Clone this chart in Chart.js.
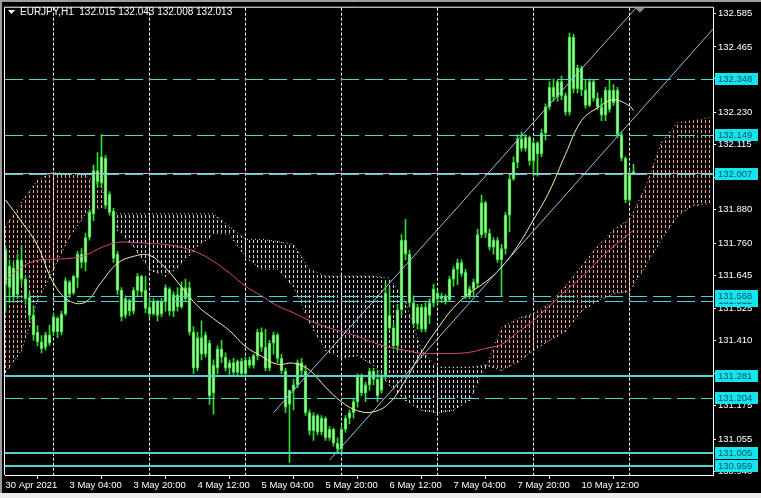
<!DOCTYPE html>
<html>
<head>
<meta charset="utf-8">
<script src="https://cdn.jsdelivr.net/npm/chart.js@4.4.1/dist/chart.umd.min.js"></script>
<style>
  html, body { margin: 0; padding: 0; background: #ececec; }
  #wrap { position: relative; width: 761px; height: 493px; }
</style>
</head>
<body>
<div id="wrap"><canvas id="chart"></canvas></div>
<script>
// ---- data (hourly bars, index 0 = 30 Apr 2021 12:00) ----
const symbol = 'EURJPY,H1';
const timeTickIdx = [0, 16, 32, 48, 64, 80, 96, 112, 128, 144];
const timeLabels = ['30 Apr 2021', '3 May 04:00', '3 May 20:00', '4 May 12:00', '5 May 04:00',
  '5 May 20:00', '6 May 12:00', '7 May 04:00', '7 May 20:00', '10 May 12:00'];
const daySeparators = [12, 36, 60, 84, 108, 132, 156];

const opens = [131.736,131.600,131.670,131.575,131.700,131.630,131.565,131.500,131.440,131.405,
  131.385,131.430,131.440,131.490,131.440,131.505,131.620,131.580,131.635,131.720,
  131.690,131.780,131.865,132.020,131.975,132.065,131.935,131.875,131.720,131.590,
  131.500,131.555,131.515,131.590,131.640,131.590,131.530,131.505,131.550,131.505,
  131.550,131.595,131.515,131.575,131.530,131.600,131.600,131.440,131.310,131.420,
  131.360,131.400,131.220,131.310,131.380,131.350,131.310,131.330,131.295,131.335,
  131.290,131.340,131.320,131.355,131.440,131.385,131.310,131.400,131.430,131.345,
  131.300,131.180,131.230,131.250,131.330,131.300,131.150,131.085,131.140,131.080,
  131.130,131.060,131.090,131.040,131.020,131.090,131.130,131.150,131.190,131.280,
  131.220,131.250,131.300,131.270,131.230,131.280,131.500,131.455,131.390,131.520,
  131.770,131.720,131.545,131.470,131.530,131.450,131.500,131.545,131.580,131.560,
  131.570,131.555,131.630,131.665,131.690,131.655,131.570,131.595,131.615,131.790,
  131.905,131.795,131.745,131.770,131.700,131.740,131.860,131.990,132.050,132.135,
  132.100,132.140,132.055,132.120,132.080,132.155,132.250,132.320,132.285,132.340,
  132.290,132.230,132.500,132.315,132.390,132.310,132.255,132.340,132.280,132.250,
  132.220,132.310,132.265,132.310,132.150,132.065,131.915,132.015];
const highs = [131.750,131.700,131.690,131.720,131.750,131.640,131.582,131.534,131.463,131.427,
  131.440,131.465,131.505,131.495,131.515,131.635,131.625,131.645,131.730,131.740,
  131.795,131.880,132.040,132.085,132.150,132.075,131.945,131.885,131.730,131.600,
  131.570,131.560,131.600,131.650,131.645,131.640,131.560,131.560,131.555,131.560,
  131.610,131.600,131.585,131.600,131.620,131.630,131.620,131.460,131.440,131.480,
  131.440,131.410,131.340,131.390,131.410,131.365,131.340,131.345,131.340,131.345,
  131.350,131.350,131.360,131.450,131.455,131.450,131.410,131.440,131.435,131.360,
  131.310,131.215,131.270,131.340,131.345,131.320,131.160,131.150,131.145,131.140,
  131.135,131.100,131.095,131.060,131.100,131.140,131.160,131.200,131.290,131.290,
  131.260,131.310,131.310,131.300,131.290,131.618,131.600,131.470,131.540,131.790,
  131.845,131.735,131.570,131.540,131.540,131.545,131.560,131.612,131.590,131.580,
  131.575,131.640,131.675,131.702,131.700,131.665,131.605,131.630,131.810,131.932,
  131.910,131.810,131.780,131.780,131.755,131.870,132.010,132.070,132.150,132.160,
  132.150,132.145,132.130,132.125,132.170,132.260,132.340,132.350,132.345,132.360,
  132.300,132.515,132.510,132.400,132.395,132.345,132.350,132.345,132.300,132.280,
  132.320,132.345,132.330,132.320,132.160,132.070,132.020,132.043];
const lows = [131.510,131.546,131.550,131.560,131.610,131.540,131.480,131.410,131.390,131.365,
  131.375,131.392,131.430,131.420,131.430,131.500,131.565,131.575,131.600,131.670,
  131.660,131.770,131.840,131.960,131.960,131.885,131.860,131.690,131.575,131.480,
  131.490,131.500,131.505,131.570,131.570,131.510,131.490,131.500,131.480,131.495,
  131.515,131.500,131.495,131.515,131.525,131.550,131.430,131.290,131.300,131.340,
  131.350,131.180,131.145,131.290,131.330,131.300,131.280,131.285,131.285,131.280,
  131.280,131.310,131.310,131.340,131.370,131.300,131.300,131.360,131.330,131.290,
  131.150,130.971,131.160,131.240,131.280,131.140,131.070,131.050,131.070,131.070,
  131.050,131.050,131.030,131.003,131.010,131.080,131.110,131.130,131.170,131.210,
  131.190,131.230,131.250,131.190,131.220,131.270,131.450,131.380,131.370,131.500,
  131.700,131.530,131.460,131.450,131.440,131.440,131.470,131.530,131.540,131.545,
  131.540,131.550,131.605,131.610,131.640,131.560,131.560,131.570,131.600,131.780,
  131.780,131.735,131.720,131.690,131.570,131.720,131.800,131.985,132.030,132.090,
  132.090,132.040,132.000,132.000,132.070,132.130,132.240,132.270,132.270,132.275,
  132.220,132.220,132.300,132.300,132.290,132.245,132.250,132.270,132.240,132.200,
  132.200,132.230,132.255,132.140,132.055,131.905,131.910,132.008];
const closes = [131.610,131.677,131.570,131.700,131.630,131.560,131.500,131.430,131.405,131.380,
  131.430,131.400,131.495,131.440,131.505,131.625,131.575,131.640,131.720,131.690,
  131.780,131.870,132.020,131.980,132.070,131.895,131.870,131.705,131.590,131.495,
  131.560,131.515,131.590,131.640,131.585,131.525,131.505,131.550,131.500,131.550,
  131.600,131.515,131.575,131.530,131.600,131.560,131.440,131.310,131.420,131.360,
  131.430,131.210,131.320,131.380,131.350,131.310,131.330,131.295,131.335,131.290,
  131.340,131.320,131.355,131.440,131.385,131.310,131.400,131.430,131.345,131.300,
  131.170,131.230,131.250,131.330,131.300,131.150,131.085,131.140,131.080,131.130,
  131.060,131.090,131.040,131.020,131.090,131.130,131.150,131.190,131.280,131.220,
  131.250,131.300,131.270,131.210,131.280,131.580,131.455,131.390,131.520,131.770,
  131.720,131.545,131.470,131.530,131.450,131.530,131.545,131.595,131.560,131.570,
  131.550,131.630,131.665,131.690,131.650,131.570,131.595,131.620,131.790,131.905,
  131.795,131.745,131.770,131.700,131.740,131.860,131.990,132.050,132.135,132.100,
  132.140,132.055,132.120,132.080,132.155,132.250,132.320,132.285,132.340,132.290,
  132.230,132.500,132.315,132.390,132.310,132.255,132.340,132.280,132.250,132.220,
  132.310,132.240,132.310,132.150,132.065,131.915,132.010,132.013];

// Ichimoku senkou spans, sampled every 4 bars (shifted 26 bars forward)
const cloudIdx = [0,4,8,12,16,20,24,28,32,36,40,44,48,52,56,60,64,68,72,76,80,84,88,92,
  96,100,104,108,112,116,120,124,128,132,136,140,144,148,152,156,160,164,168,172,176];
const spanA = [131.819,131.908,131.986,132.015,132.008,132.004,131.961,131.808,131.748,131.666,
  131.641,131.687,131.748,131.794,131.791,131.712,131.666,131.666,131.605,131.474,
  131.374,131.349,131.356,131.321,131.249,131.196,131.160,131.150,131.160,131.196,
  131.310,131.456,131.488,131.506,131.545,131.605,131.677,131.748,131.808,131.844,
  131.961,132.122,132.193,132.200,132.211];
const spanB = [131.296,131.374,131.552,131.666,131.783,131.865,131.890,131.865,131.865,131.865,
  131.865,131.865,131.865,131.865,131.819,131.773,131.773,131.766,131.755,131.666,
  131.641,131.641,131.641,131.641,131.634,131.552,131.374,131.314,131.314,131.314,
  131.321,131.303,131.331,131.374,131.410,131.445,131.516,131.552,131.577,131.588,
  131.677,131.773,131.858,131.897,131.901];

// moving averages, sampled
const maIdx = [0,4,8,12,16,20,24,28,32,36,40,44,48,52,56,60,64,68,72,76,80,84,88,92,
  96,100,104,108,112,116,120,124,128,132,136,140,144,148,152,156,157];
const maFast = [131.915,131.837,131.751,131.616,131.552,131.548,131.620,131.687,131.712,131.716,
  131.670,131.602,131.534,131.488,131.445,131.388,131.353,131.324,131.328,131.303,
  131.242,131.189,131.157,131.153,131.185,131.267,131.367,131.452,131.527,131.580,
  131.620,131.673,131.748,131.844,131.947,132.079,132.200,132.246,132.275,132.253,132.236];
const maSlow = [131.623,131.673,131.698,131.702,131.705,131.716,131.744,131.762,131.762,131.758,
  131.755,131.744,131.726,131.694,131.652,131.605,131.570,131.534,131.509,131.481,
  131.459,131.442,131.424,131.402,131.385,131.374,131.363,131.363,131.363,131.367,
  131.381,131.395,131.438,131.481,131.534,131.588,131.637,131.694,131.748,131.794,131.805];

// price axis
const priceTicks = [132.585,132.465,132.350,132.230,132.115,131.995,131.880,131.760,
  131.645,131.525,131.410,131.290,131.175,131.055,130.940];
const yMin = 130.926, yMax = 132.606;

// horizontal levels
const levels     = [132.348, 132.149, 132.007, 131.552, 131.568, 131.281, 131.204, 131.005, 130.959];
const levelSolid = [false,   false,   false,   false,   false,   true,    false,   true,    true];

// channel (trend lines): [bar index, price]
const channelUpper = [[67, 131.150], [160, 132.643]];
const channelLower = [[81, 130.979], [177, 132.531]];

const shiftIdx = 158.6;

// ---- chart ----
const FONT = "'Liberation Sans', Arial, sans-serif";
Chart.defaults.font.family = FONT;
Chart.defaults.font.size = 9.5;
Chart.defaults.color = '#ffffff';

const UP_COL = '#f6a287', DN_COL = '#ddd2e4';
const last = closes.length - 1;
const candleIdx = closes.map((_, k) => k);

// value of a sampled series at a bar column (linear between samples)
function sampleAt(idx, vals, k) {
  for (let j = 0; j < idx.length - 1; j++) {
    if (k >= idx[j] && k <= idx[j + 1]) {
      const t = (k - idx[j]) / (idx[j + 1] - idx[j]);
      return vals[j] + t * (vals[j + 1] - vals[j]);
    }
  }
  return null;
}

const datasets = [];

datasets.push({
  type: 'line', label: 'spanA', order: 20,
  data: cloudIdx.map((k, j) => ({ x: k, y: spanA[j] })),
  borderColor: UP_COL, borderWidth: 1, borderDash: [1, 3],
  pointRadius: 0, tension: 0, fill: false
});
datasets.push({
  type: 'line', label: 'spanB', order: 21,
  data: cloudIdx.map((k, j) => ({ x: k, y: spanB[j] })),
  borderColor: DN_COL, borderWidth: 1, borderDash: [1, 3],
  pointRadius: 0, tension: 0, fill: false
});

datasets.push({
  type: 'bar', label: 'wicks', order: 8, grouped: false,
  data: candleIdx.map(k => ({ x: k, y: [lows[k], highs[k]] })),
  backgroundColor: '#35dc35', barThickness: 1, borderWidth: 0
});
datasets.push({
  type: 'bar', label: 'bodies', order: 7, grouped: false,
  data: candleIdx.map(k => ({ x: k, y: [opens[k], closes[k]] })),
  backgroundColor: '#9cf29c', borderColor: '#35dc35', borderWidth: 1,
  borderSkipped: false, barThickness: 3, minBarLength: 1
});

datasets.push({
  type: 'line', label: 'maSlow', order: 5,
  data: maIdx.map((k, j) => ({ x: k, y: maSlow[j] })),
  borderColor: '#d8487c', borderWidth: 1, pointRadius: 0, tension: 0.4, fill: false
});
datasets.push({
  type: 'line', label: 'maFast', order: 4,
  data: maIdx.map((k, j) => ({ x: k, y: maFast[j] })),
  borderColor: '#f4f2a8', borderWidth: 1, pointRadius: 0, tension: 0.4, fill: false
});

[channelUpper, channelLower].forEach((seg, n) => {
  datasets.push({
    type: 'line', label: 'channel' + n, order: 3,
    data: seg.map(p => ({ x: p[0], y: p[1] })),
    borderColor: '#9dbfd6', borderWidth: 1, pointRadius: 0, fill: false
  });
});

const mtPlugin = {
  id: 'mt',
  beforeDraw(chart) {
    const { ctx, width, height } = chart;
    ctx.save();
    ctx.fillStyle = '#000';
    ctx.fillRect(0, 0, width, height);
    ctx.fillStyle = '#9c9c9c';
    ctx.fillRect(0, 0, width, 2);
    ctx.fillRect(0, 0, 2, height);
    ctx.restore();
  },
  beforeDatasetsDraw(chart) {
    const { ctx, chartArea: a, scales: { x, y } } = chart;
    ctx.save();
    // day separators
    ctx.strokeStyle = '#ffffff';
    ctx.lineWidth = 1;
    ctx.setLineDash([3, 2]);
    daySeparators.forEach(i => {
      const px = Math.floor(x.getPixelForValue(i)) + 0.5;
      ctx.beginPath();
      ctx.moveTo(px, a.top);
      ctx.lineTo(px, a.bottom);
      ctx.stroke();
    });
    // kumo hatching, one dashed column per bar
    ctx.beginPath();
    ctx.rect(a.left, a.top, a.right - a.left, a.bottom - a.top);
    ctx.clip();
    for (let k = 0; k <= cloudIdx[cloudIdx.length - 1]; k++) {
      const va = sampleAt(cloudIdx, spanA, k), vb = sampleAt(cloudIdx, spanB, k);
      if (va === null || vb === null) continue;
      const px = Math.floor(x.getPixelForValue(k));
      const y1 = Math.round(y.getPixelForValue(Math.max(va, vb)));
      const y2 = Math.round(y.getPixelForValue(Math.min(va, vb)));
      ctx.fillStyle = va >= vb ? UP_COL : DN_COL;
      for (let yy = y1; yy <= y2; yy++) {
        if (yy % 5 < 3) ctx.fillRect(px, yy, 1, 1);
      }
    }
    ctx.restore();
  },
  afterDatasetsDraw(chart) {
    const { ctx, chartArea: a, scales: { y } } = chart;
    ctx.save();
    // bid line
    const by = Math.round(y.getPixelForValue(closes[last])) + 0.5;
    ctx.strokeStyle = '#bdbacb';
    ctx.lineWidth = 1;
    ctx.beginPath(); ctx.moveTo(a.left, by); ctx.lineTo(a.right, by); ctx.stroke();
    // horizontal levels
    levels.forEach((v, n) => {
      const py = Math.round(y.getPixelForValue(v));
      ctx.strokeStyle = '#52d3ce';
      if (levelSolid[n]) {
        ctx.lineWidth = 2;
        ctx.setLineDash([]);
        ctx.beginPath(); ctx.moveTo(a.left, py); ctx.lineTo(a.right, py); ctx.stroke();
      } else {
        ctx.lineWidth = 1;
        ctx.setLineDash([18, 6]);
        ctx.beginPath(); ctx.moveTo(a.left, py + 0.5); ctx.lineTo(a.right, py + 0.5); ctx.stroke();
      }
    });
    ctx.restore();
  },
  afterDraw(chart) {
    const { ctx, chartArea: a, scales: { x, y } } = chart;
    ctx.save();
    // frame
    ctx.strokeStyle = '#ffffff';
    ctx.lineWidth = 1;
    ctx.beginPath();
    ctx.moveTo(a.left - 0.5, a.bottom);
    ctx.lineTo(a.left - 0.5, a.top - 0.5);
    ctx.lineTo(a.right, a.top - 0.5);
    ctx.stroke();

    // level price boxes
    ctx.font = '9.5px ' + FONT;
    ctx.textBaseline = 'middle';
    ctx.textAlign = 'left';
    levels.forEach(v => {
      const py = Math.round(y.getPixelForValue(v));
      ctx.fillStyle = '#14e4ee';
      ctx.fillRect(a.right + 2, py - 6, 43, 12);
      ctx.fillStyle = '#0c5360';
      ctx.fillText(v.toFixed(3), a.right + 5, py + 0.5);
    });

    // header
    ctx.fillStyle = '#ffffff';
    ctx.beginPath();
    ctx.moveTo(8, 10); ctx.lineTo(15, 10); ctx.lineTo(11.5, 14); ctx.closePath();
    ctx.fill();
    ctx.font = '10px ' + FONT;
    const hdr = symbol + '  ' + [opens[last], highs[last], lows[last], closes[last]]
      .map(v => v.toFixed(3)).join(' ');
    ctx.fillText(hdr, 20, 12.5);

    // chart shift marker
    const sx = x.getPixelForValue(shiftIdx);
    ctx.fillStyle = '#8a8a8a';
    ctx.beginPath();
    ctx.moveTo(sx - 5, a.top); ctx.lineTo(sx + 5, a.top); ctx.lineTo(sx, a.top + 5); ctx.closePath();
    ctx.fill();
    ctx.restore();
  }
};

new Chart(document.getElementById('chart'), {
  type: 'line',
  data: { datasets },
  options: {
    responsive: true,
    maintainAspectRatio: false,
    devicePixelRatio: 1,
    animation: false,
    events: [],
    layout: { padding: { left: 5, top: 4, right: 0, bottom: 0 } },
    plugins: { legend: { display: false }, tooltip: { enabled: false }, title: { display: false } },
    scales: {
      x: {
        type: 'linear', min: -0.125, max: 176.875, offset: false,
        afterFit: s => { s.height = 18; },
        afterBuildTicks: s => { s.ticks = timeTickIdx.map(v => ({ value: v })); },
        grid: { display: true, drawOnChartArea: false, drawTicks: true, tickLength: 4, color: '#ffffff' },
        border: { display: true, color: '#ffffff' },
        ticks: {
          autoSkip: false, maxRotation: 0, align: 'start', padding: 1, color: '#ffffff',
          font: { size: 9.5 },
          callback: v => timeLabels[timeTickIdx.indexOf(v)]
        }
      },
      y: {
        type: 'linear', position: 'right', min: yMin, max: yMax,
        afterFit: s => { s.width = 48; },
        afterBuildTicks: s => { s.ticks = priceTicks.map(v => ({ value: v })); },
        grid: { display: true, drawOnChartArea: false, drawTicks: true, tickLength: 3, color: '#ffffff' },
        border: { display: true, color: '#ffffff' },
        ticks: { padding: 2, color: '#ffffff', font: { size: 9.5 }, callback: v => v.toFixed(3) }
      }
    }
  },
  plugins: [mtPlugin]
});
</script>
</body>
</html>
